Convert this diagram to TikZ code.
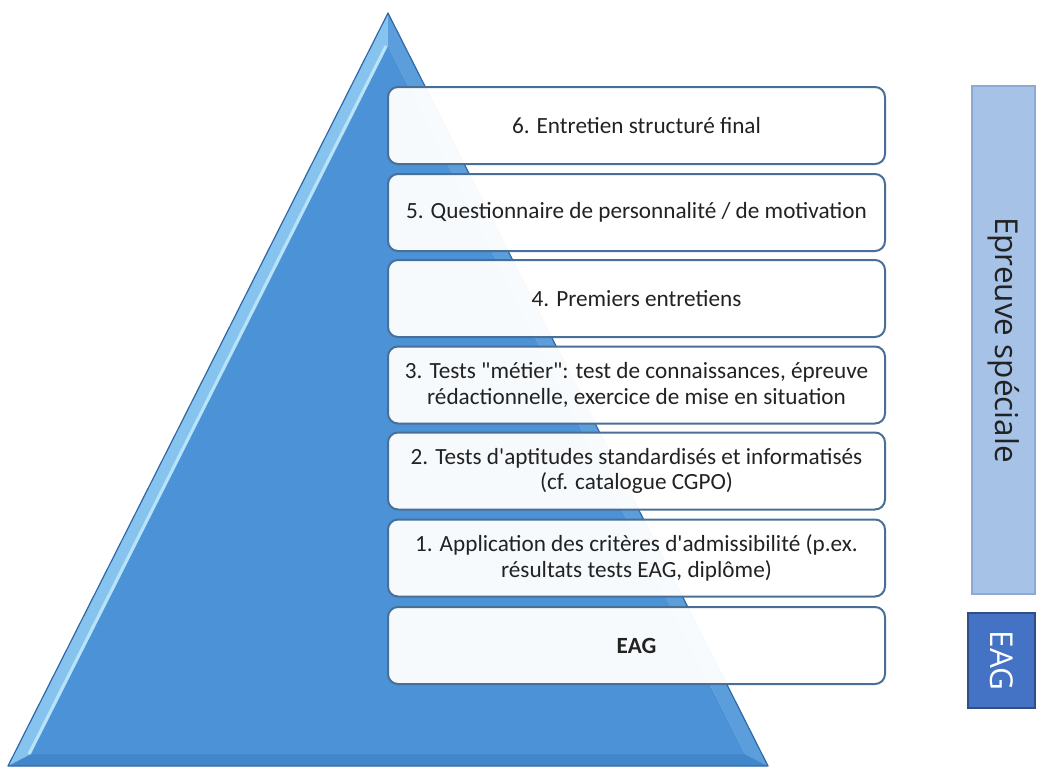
\documentclass[tikz,border=0pt]{standalone}
\usepackage{fontspec}
\newfontfamily\boxfont{Carlito}
\newfontfamily\barfont{Open Sans}
\definecolor{triedge}{HTML}{2F68A6}
\definecolor{trimain}{HTML}{4B92D6}
\definecolor{trileft}{HTML}{86C3EE}
\definecolor{trilight}{HTML}{B8E4FA}
\definecolor{triright}{HTML}{5C9EDC}
\definecolor{tribottom}{HTML}{4387CB}
\definecolor{boxedge}{HTML}{4A6F96}
\definecolor{txt}{HTML}{222222}
\definecolor{barlight}{HTML}{A6C2E7}
\definecolor{barlightedge}{HTML}{8EAAD4}
\definecolor{bardark}{HTML}{4472C4}
\definecolor{bardarkedge}{HTML}{2E4F86}
\begin{document}
\begin{tikzpicture}[x=1pt,y=-1pt,
  stage/.style={draw=boxedge, line width=2pt, fill=white, fill opacity=0.96, text opacity=1,
    rounded corners=10pt, minimum width=497pt, minimum height=77pt, inner sep=0pt,
    align=center, text=txt, font=\boxfont\fontsize{23.2}{25.5}\selectfont},
  barbox/.style={line width=1.2pt, inner sep=0pt},
  bartext/.style={rotate=-90, font=\barfont\fontsize{31.5}{36}\selectfont}]
\useasboundingbox (0,0) rectangle (1063,766);
% pyramid
\coordinate (A) at (388,13);
\coordinate (L) at (8,766);
\coordinate (R) at (768,766);
\coordinate (a) at (388,46);
\coordinate (l) at (31,754);
\coordinate (r) at (745,754);
\fill[trileft] (A)--(L)--(l)--(a)--cycle;
\fill[triright] (A)--(a)--(r)--(R)--cycle;
\fill[tribottom] (L)--(R)--(r)--(l)--cycle;
\fill[trimain] (a)--(l)--(r)--cycle;
\draw[trilight, line width=3pt] ([xshift=-2pt]a)--([xshift=-2pt]l);
\draw[triedge, line width=1.2pt, line join=round] (A)--(L)--(R)--cycle;
% stages
\node[stage] (s6) at (636.5,125.5) {6. Entretien structuré final};
\node[stage] (s5) at (636.5,212.5) {5. Questionnaire de personnalité / de motivation};
\node[stage] (s4) at (636.5,298.5) {4. Premiers entretiens};
\node[stage] (s3) at (636.5,385) {3. Tests "métier": test de connaissances, épreuve\\rédactionnelle, exercice de mise en situation};
\node[stage] (s2) at (636.5,471) {2. Tests d'aptitudes standardisés et informatisés\\(cf. catalogue CGPO)};
\node[stage] (s1) at (636.5,558) {1. Application des critères d'admissibilité (p.ex.\\résultats tests EAG, diplôme)};
\node[stage] (s0) at (636.5,645.5) {\bfseries EAG};
% side bars
\node[barbox, draw=barlightedge, fill=barlight, minimum width=63pt, minimum height=508pt] (ep) at (1003.5,340) {};
\node[bartext, text=txt] (eptext) at (ep.center) {Epreuve spéciale};
\node[barbox, draw=bardarkedge, fill=bardark, minimum width=67pt, minimum height=95pt] (eag) at (1001.5,660.5) {};
\node[bartext, text=white] (eagtext) at (eag.center) {EAG};
\end{tikzpicture}
\end{document}
